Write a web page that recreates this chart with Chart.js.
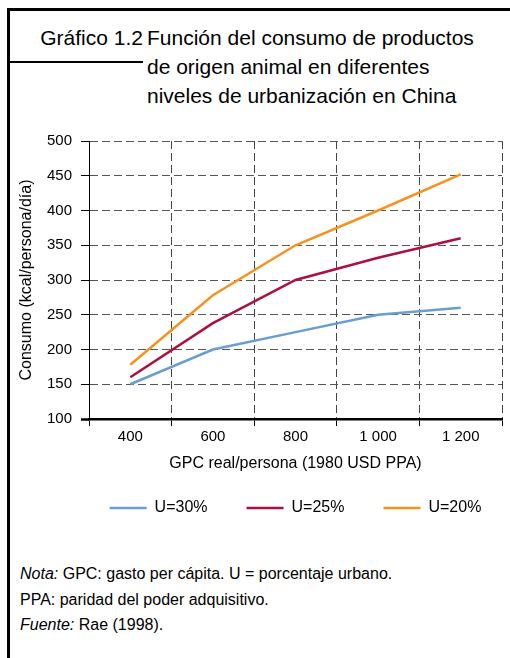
<!DOCTYPE html>
<html>
<head>
<meta charset="utf-8">
<script src="https://cdn.jsdelivr.net/npm/chart.js@4/dist/chart.umd.min.js"></script>
<style>
  body { margin: 0; background: #fff; font-family: "Liberation Sans", Arial, sans-serif; color: #000; }
  #page { position: relative; width: 510px; height: 658px; overflow: hidden; }
  .line { position: absolute; background: #000; }
  .t { position: absolute; white-space: nowrap; }
  #num { font-size: 21px; right: 367px; top: 23px; text-align: right; }
  #title { font-size: 21px; left: 147px; top: 23px; line-height: 29px; }
  #notes { font-size: 16px; left: 20px; top: 561px; line-height: 25.5px; }
  #wrap { position: absolute; left: 0; top: 120px; width: 510px; height: 410px; }
</style>
</head>
<body>
<div id="page">
  <div class="line" style="left:7px;top:8px;width:503px;height:2.5px"></div>
  <div class="line" style="left:7px;top:8px;width:2.5px;height:650px"></div>
  <div class="line" style="left:7px;top:61px;width:136px;height:2px"></div>
  <div class="t" id="num" style="line-height:29px">Gráfico 1.2</div>
  <div class="t" id="title">Función del consumo de productos<br>de origen animal en diferentes<br>niveles de urbanización en China</div>
  <div id="wrap"><canvas id="chart"></canvas></div>
  <div class="t" id="notes"><i>Nota:</i> GPC: gasto per cápita. U = porcentaje urbano.<br>PPA: paridad del poder adquisitivo.<br><i>Fuente:</i> Rae (1998).</div>
</div>
<script>
// valores
const categorias = ['400', '600', '800', '1 000', '1 200'];
const u30 = [150, 200, 225, 250, 260];
const u25 = [160, 238, 300, 332, 360];
const u20 = [178, 278, 350, 400, 452];
const ticksY = [100, 150, 200, 250, 300, 350, 400, 450, 500];

const fuente = "'Liberation Sans', Arial, sans-serif";

function serie(label, data, color) {
    return {
        label: label,
        data: data,
        borderColor: color,
        backgroundColor: color,
        borderWidth: 2.5,
        pointRadius: 0,
        tension: 0,
        fill: false
    };
}

// centra la leyenda bajo el área del gráfico (y no bajo todo el lienzo)
const leyendaCentrada = {
    id: 'leyendaCentrada',
    afterLayout(chart) {
        const lg = chart.legend;
        if (!lg || !lg.lineWidths) return;
        const pad = lg.options.labels.padding;
        const ancho = lg.lineWidths[0] - pad;
        const cx = (chart.chartArea.left + chart.chartArea.right) / 2;
        const dx = (cx - ancho / 2) - (lg.left + pad);
        lg.left += dx;
        lg.right += dx;
    }
};

const ctx = document.getElementById('chart');

new Chart(ctx, {
    type: 'line',
    data: {
        labels: categorias,
        datasets: [
            serie('U=30%', u30, '#6a9dd2'),
            serie('U=25%', u25, '#ad0f3f'),
            serie('U=20%', u20, '#f7921e')
        ]
    },
    plugins: [leyendaCentrada],
    options: {
        responsive: true,
        maintainAspectRatio: false,
        animation: false,
        layout: {
            padding: { top: 21, left: 13, right: 8, bottom: 4 }
        },
        plugins: {
            tooltip: { enabled: false },
            legend: {
                position: 'bottom',
                align: 'start',
                labels: {
                    usePointStyle: true,
                    pointStyle: 'line',
                    pointStyleWidth: 37,
                    padding: 39,
                    color: '#000',
                    font: { family: fuente, size: 16 }
                }
            }
        },
        scales: {
            x: {
                offset: true,
                afterFit: (scale) => { scale.height = 42; },
                grid: {
                    offset: true,
                    color: '#444',
                    tickColor: '#000',
                    tickLength: 7
                },
                border: { color: '#000', width: 2.5, dash: [8, 4] },
                ticks: {
                    color: '#000',
                    padding: 2,
                    font: { family: fuente, size: 15 }
                },
                title: {
                    display: true,
                    text: 'GPC real/persona (1980 USD PPA)',
                    color: '#000',
                    padding: { top: 0, bottom: -12 },
                    font: { family: fuente, size: 16 }
                }
            },
            y: {
                min: 100,
                max: 500,
                afterFit: (scale) => { scale.width = 76; },
                afterBuildTicks: (scale) => {
                    scale.ticks = ticksY.map(v => ({ value: v }));
                },
                grid: {
                    color: '#555',
                    tickColor: '#000',
                    tickLength: 8,
                    tickWidth: (c) => (c.tick && c.tick.value === 100 ? 2.5 : 1)
                },
                border: { color: '#000', width: 1, dash: [8, 4] },
                ticks: {
                    color: '#000',
                    padding: 9,
                    font: { family: fuente, size: 15 }
                },
                title: {
                    display: true,
                    text: 'Consumo (kcal/persona/día)',
                    color: '#000',
                    padding: { top: 4, bottom: 4 },
                    font: { family: fuente, size: 16 }
                }
            }
        }
    }
});
</script>
</body>
</html>
